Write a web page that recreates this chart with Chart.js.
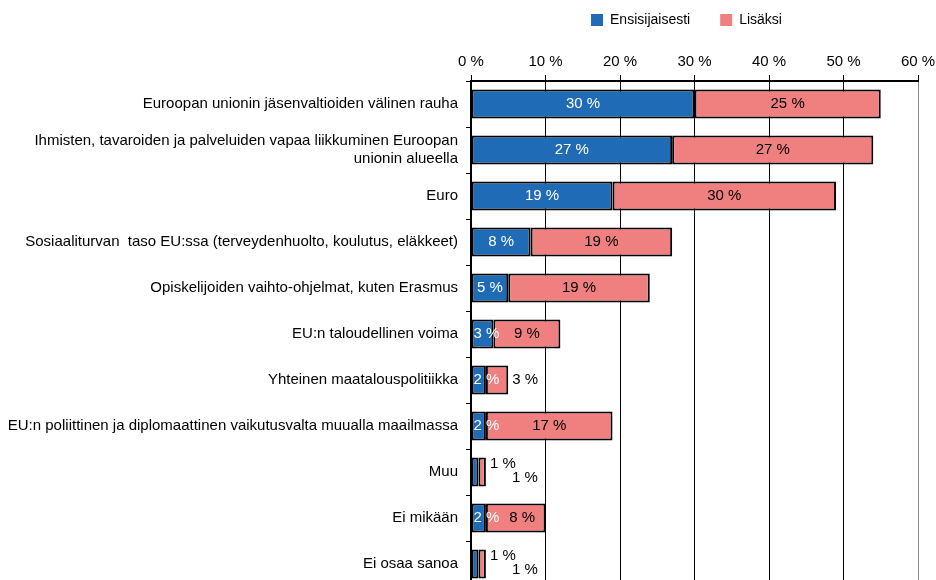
<!DOCTYPE html>
<html>
<head>
<meta charset="utf-8">
<script src="https://cdn.jsdelivr.net/npm/chart.js@4"></script>
<style>
  html, body { margin: 0; padding: 0; background: #fff; overflow: hidden; }
  #wrap { position: relative; width: 936px; height: 600px; }
</style>
</head>
<body>
<div id="wrap"><canvas id="chart"></canvas></div>
<script>
const categories = [
  'Euroopan unionin jäsenvaltioiden välinen rauha',
  ['Ihmisten, tavaroiden ja palveluiden vapaa liikkuminen Euroopan', 'unionin alueella'],
  'Euro',
  'Sosiaaliturvan  taso EU:ssa (terveydenhuolto, koulutus, eläkkeet)',
  'Opiskelijoiden vaihto-ohjelmat, kuten Erasmus',
  'EU:n taloudellinen voima',
  'Yhteinen maatalouspolitiikka',
  'EU:n poliittinen ja diplomaattinen vaikutusvalta muualla maailmassa',
  'Muu',
  'Ei mikään',
  'Ei osaa sanoa'
];
const primary = [30, 27, 19, 8, 5, 3, 2, 2, 1, 2, 1];
const additional = [25, 27, 30, 19, 19, 9, 3, 17, 1, 8, 1];
const seriesNames = ['Ensisijaisesti', 'Lisäksi'];
const xTicks = [0, 10, 20, 30, 40, 50, 60];

const FONT = '"Liberation Sans", Arial, sans-serif';

// value labels: centred in the segment, pushed outside when the segment is tiny
const valueLabels = {
  id: 'valueLabels',
  afterDatasetsDraw(chart) {
    const ctx = chart.ctx;
    ctx.save();
    ctx.font = '15px ' + FONT;
    ctx.textBaseline = 'middle';
    const m0 = chart.getDatasetMeta(0), m1 = chart.getDatasetMeta(1);
    categories.forEach((c, i) => {
      const b = m0.data[i], p = m1.data[i];
      const bw = b.x - b.base, pw = p.x - p.base;
      const bt = primary[i] + ' %', pt = additional[i] + ' %';
      const btw = ctx.measureText(bt).width, ptw = ctx.measureText(pt).width;
      let blueOutside = false, blueEnd = b.x;
      if (bw < 10) {
        blueOutside = true;
        ctx.fillStyle = '#000';
        ctx.textAlign = 'left';
        ctx.fillText(bt, p.x + 4, b.y - 8);
      } else {
        const cx = Math.max((b.x + b.base) / 2, b.base + btw / 2 + 2);
        blueEnd = cx + btw / 2;
        ctx.fillStyle = '#fff';
        ctx.textAlign = 'center';
        ctx.fillText(bt, cx, b.y);
      }
      ctx.fillStyle = '#000';
      if (pw < 30) {
        ctx.textAlign = 'left';
        if (blueOutside) ctx.fillText(pt, p.x + 26, p.y + 6);
        else ctx.fillText(pt, p.x + 4, p.y);
      } else {
        ctx.textAlign = 'center';
        ctx.fillText(pt, Math.max((p.x + p.base) / 2, blueEnd + ptw / 2 + 10), p.y);
      }
    });
    ctx.restore();
  }
};

// nudge the legend a little left of the plot centre, as in the original
const legendShift = {
  id: 'legendShift',
  afterLayout(chart) {
    chart.legend.left -= 8;
    chart.legend.right -= 8;
  }
};

new Chart(document.getElementById('chart'), {
  type: 'bar',
  data: {
    labels: categories,
    datasets: [
      { label: seriesNames[0], data: primary, backgroundColor: '#1f6bb5', borderColor: '#000', borderWidth: 2, borderSkipped: false },
      { label: seriesNames[1], data: additional, backgroundColor: '#f08080', borderColor: '#000', borderWidth: 2, borderSkipped: false }
    ]
  },
  options: {
    indexAxis: 'y',
    responsive: true,
    maintainAspectRatio: false,
    animation: false,
    layout: { padding: { top: -17, right: 18, bottom: 13, left: 0 } },
    datasets: { bar: { barPercentage: 0.63, categoryPercentage: 1 } },
    plugins: {
      legend: {
        position: 'top',
        fullSize: false,
        labels: {
          boxWidth: 12, boxHeight: 12, padding: 30, color: '#000',
          font: { family: FONT, size: 14 },
          generateLabels(chart) {
            return chart.data.datasets.map((d, i) => ({
              text: d.label, fillStyle: d.backgroundColor, strokeStyle: d.backgroundColor,
              lineWidth: 0, datasetIndex: i, fontColor: '#000'
            }));
          }
        }
      },
      tooltip: { enabled: false }
    },
    scales: {
      x: {
        position: 'top',
        stacked: true,
        min: 0, max: 60,
        afterBuildTicks(scale) { scale.ticks = xTicks.map(v => ({ value: v })); },
        ticks: { color: '#000', font: { family: FONT, size: 15 }, padding: 4, callback: v => v + ' %' },
        grid: {
          color: ctx => ctx.tick && ctx.tick.value === 60 ? '#888' : '#000',
          lineWidth: 1, tickLength: 6, tickColor: '#000'
        },
        border: { color: '#000', width: 2 },
        afterFit(scale) { scale.height = 44; scale.paddingLeft = 0; scale.paddingRight = 0; }
      },
      y: {
        stacked: true,
        ticks: { color: '#000', font: { family: FONT, size: 15 }, padding: 8 },
        grid: { drawOnChartArea: false, color: '#000', tickLength: 5 },
        border: { color: '#000', width: 2 },
        afterFit(scale) { scale.width = 471; scale.paddingTop = 0; scale.paddingBottom = 0; }
      }
    }
  },
  plugins: [valueLabels, legendShift]
});
</script>
</body>
</html>
